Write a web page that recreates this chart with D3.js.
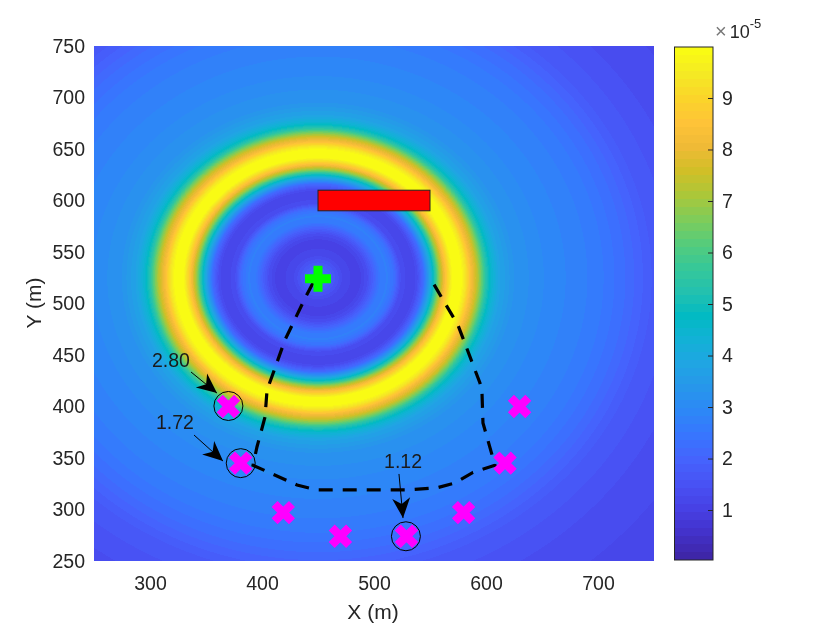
<!DOCTYPE html>
<html><head><meta charset="utf-8">
<script src="https://cdnjs.cloudflare.com/ajax/libs/d3/7.8.5/d3.min.js"></script>
<style>
html,body{margin:0;padding:0;background:#fff}
#wrap{position:relative;width:840px;height:630px;overflow:hidden}
canvas,svg{position:absolute;left:0;top:0}
text{font-family:"Liberation Sans",Arial,sans-serif;fill:#262626}
</style></head><body><div id="wrap"><canvas id="heat" width="840" height="630"></canvas><svg id="chart" width="840" height="630"></svg></div>
<script>
// radial power profile (units of 1e-5), around the source
const sourcePoint = [450, 525];
const profileRadius = [0, 8, 15, 22, 30, 38, 44, 50, 56, 62, 68, 74, 82, 88, 94, 100, 104, 108, 112, 116, 120, 128, 132, 137, 141, 146, 150, 155, 162, 175, 200, 225, 250, 275, 300, 340, 420];
const profileValue  = [2.4, 2.0, 1.6, 1.25, 1.1, 1.1, 1.4, 2.0, 2.6, 2.7, 2.3, 1.4, 1.15, 1.3, 2.2, 3.9, 5.2, 6.8, 8.0, 9.0, 9.9, 9.9, 9.3, 8.2, 7.6, 6.4, 5.3, 4.5, 3.8, 3.3, 3.0, 2.8, 2.6, 2.2, 1.7, 1.4, 1.1];
const verticalStretch = 1.03;
// UAV path
const pathX = [445.5, 438.4, 420.5, 410, 404.5, 402.7, 395.5, 392, 431.3, 449, 472.3, 529.5, 556, 572.3, 588.4, 608, 597.3, 596.4, 594.6, 575, 550];
const pathY = [520, 505, 464.6, 432.5, 416, 389.8, 360.7, 343, 323.8, 319, 319, 319, 321, 325.7, 336, 343, 384, 414, 422.8, 479, 525];
// magenta crosses
const crossX = [370, 381, 529, 419, 470, 580, 617, 630];
const crossY = [400, 345, 274, 297, 274, 297, 345, 400];
// circled crosses
const ringX = [370, 381, 528.5];
const ringY = [400.5, 345, 274];
// annotations
const noteText = ["2.80", "1.72", "1.12"];
const noteTextX = [318.7, 322.3, 525.9];
const noteTextY = [438.3, 378, 340.3];
const arrowX0 = [336.6, 339.3, 522.3];
const arrowY0 = [433.5, 372.3, 334.5];
const arrowX1 = [359.8, 365.2, 525.9];
const arrowY1 = [413, 347, 291.7];
// red block
const blockX = [450, 550];
const blockY = [590, 610];
// axes
const xTicks = [300, 400, 500, 600, 700];
const yTicks = [250, 300, 350, 400, 450, 500, 550, 600, 650, 700, 750];
const cTicks = [1, 2, 3, 4, 5, 6, 7, 8, 9];
const cRange = [0.03, 9.99];
const parula = ["#3e26a8","#4332cb","#4741e5","#4852f4","#4563fd","#3875fe","#2d87f7","#2796eb","#20a5e3","#12b1d6","#02bac3","#24c1ae","#37c897","#57cc7a","#80cc59","#abc739","#d1bf27","#efba36","#fec338","#fbd42a","#f5e924","#f9fb14"];

const x = d3.scaleLinear().domain([250, 750]).range([94, 654]);
const y = d3.scaleLinear().domain([250, 750]).range([561, 46]);
const c = d3.scaleLinear().domain(cRange).range([560, 47]);
const ramp = d3.piecewise(d3.interpolateRgb, parula);
const colour = d3.scaleQuantize().domain(cRange).range(d3.quantize(ramp, 64));
const profile = d3.scaleLinear().domain(profileRadius).range(profileValue).clamp(true);
const tickFont = 19.5, labelFont = 21;

// heat field
const ctx = document.getElementById("heat").getContext("2d");
for (let py = 46; py < 561; py++) {
  for (let px = 94; px < 654; px++) {
    const r = Math.hypot(x.invert(px + .5) - sourcePoint[0], (y.invert(py + .5) - sourcePoint[1]) * verticalStretch);
    ctx.fillStyle = colour(profile(r));
    ctx.fillRect(px, py, 1, 1);
  }
}
// colorbar
for (let py = 47; py < 560; py++) {
  ctx.fillStyle = colour(c.invert(py + .5));
  ctx.fillRect(674, py, 39, 1);
}

const svg = d3.select("#chart");
svg.append("defs").append("marker").attr("id", "head").attr("markerUnits", "userSpaceOnUse")
  .attr("viewBox", "0 -10 22 20").attr("refX", 20).attr("refY", 0)
  .attr("markerWidth", 22).attr("markerHeight", 20).attr("orient", "auto")
  .append("path").attr("d", "M20,0L0,-9L6,0L0,9Z").attr("fill", "#000");

// axes
const ax = svg.append("g").attr("transform", "translate(0,561)")
  .call(d3.axisBottom(x).tickValues(xTicks).tickSize(0).tickPadding(15));
const ay = svg.append("g").attr("transform", "translate(94,0)")
  .call(d3.axisLeft(y).tickValues(yTicks).tickSize(0).tickPadding(9));
[ax, ay].forEach(g => {
  g.select(".domain").remove();
  g.selectAll("text").attr("font-size", tickFont).attr("font-family", '"Liberation Sans",Arial,sans-serif').attr("fill", "#262626");
});
svg.append("text").attr("x", 373).attr("y", 619).attr("text-anchor", "middle").attr("font-size", labelFont).text("X (m)");
svg.append("text").attr("transform", "translate(41,303) rotate(-90)").attr("text-anchor", "middle").attr("font-size", labelFont).text("Y (m)");

// path
svg.append("path").datum(pathX.map((d, i) => [d, pathY[i]]))
  .attr("d", d3.line().x(d => x(d[0])).y(d => y(d[1])))
  .attr("fill", "none").attr("stroke", "#000").attr("stroke-width", 3.2).attr("stroke-dasharray", "14 10");

// crosses
const crossArm = 8.7;
svg.append("g").selectAll("path").data(crossX).join("path")
  .attr("transform", (d, i) => `translate(${x(d)},${y(crossY[i])})`)
  .attr("d", `M${-crossArm},${-crossArm}L${crossArm},${crossArm}M${-crossArm},${crossArm}L${crossArm},${-crossArm}`)
  .attr("stroke", "#ff00ff").attr("stroke-width", 8.5).attr("fill", "none");

// rings
svg.append("g").selectAll("circle").data(ringX).join("circle")
  .attr("cx", d => x(d)).attr("cy", (d, i) => y(ringY[i])).attr("r", 14.5)
  .attr("fill", "none").attr("stroke", "#000").attr("stroke-width", 1);

// source plus
svg.append("path").attr("transform", `translate(${x(sourcePoint[0])},${y(sourcePoint[1]) + 1})`)
  .attr("d", "M-13,0H13M0,-13V13").attr("stroke", "#00ff00").attr("stroke-width", 9).attr("fill", "none");

// block
svg.append("rect").attr("x", x(blockX[0])).attr("y", y(blockY[1]))
  .attr("width", x(blockX[1]) - x(blockX[0])).attr("height", y(blockY[0]) - y(blockY[1]))
  .attr("fill", "#ff0000").attr("stroke", "#222").attr("stroke-width", 1);

// annotations
noteText.forEach((t, i) => {
  svg.append("line").attr("x1", x(arrowX0[i])).attr("y1", y(arrowY0[i]))
    .attr("x2", x(arrowX1[i])).attr("y2", y(arrowY1[i]))
    .attr("stroke", "#000").attr("stroke-width", 1).attr("marker-end", "url(#head)");
  svg.append("text").attr("x", x(noteTextX[i])).attr("y", y(noteTextY[i]))
    .attr("text-anchor", "middle").attr("font-size", tickFont).style("fill", "#1a1a1a").text(t);
});

// colorbar frame and axis
svg.append("rect").attr("x", 674.5).attr("y", 47).attr("width", 38.5).attr("height", 513)
  .attr("fill", "none").attr("stroke", "#262626").attr("stroke-width", 1);
const ac = svg.append("g").attr("transform", "translate(713,0)")
  .call(d3.axisRight(c).tickValues(cTicks).tickFormat(d3.format("d")).tickSize(-5).tickPadding(14));
ac.select(".domain").remove();
ac.selectAll("line").attr("stroke", "#262626");
ac.selectAll("text").attr("font-size", tickFont).attr("font-family", '"Liberation Sans",Arial,sans-serif').attr("fill", "#262626").attr("x", 9);
const exp = svg.append("text").attr("x", 715).attr("y", 38).attr("font-size", 18);
exp.append("tspan").style("fill", "#777").attr("font-size", 20).text("×");
exp.append("tspan").attr("dx", 3).text("10");
exp.append("tspan").attr("dy", -10).attr("font-size", 13).text("-5");
</script></body></html>
